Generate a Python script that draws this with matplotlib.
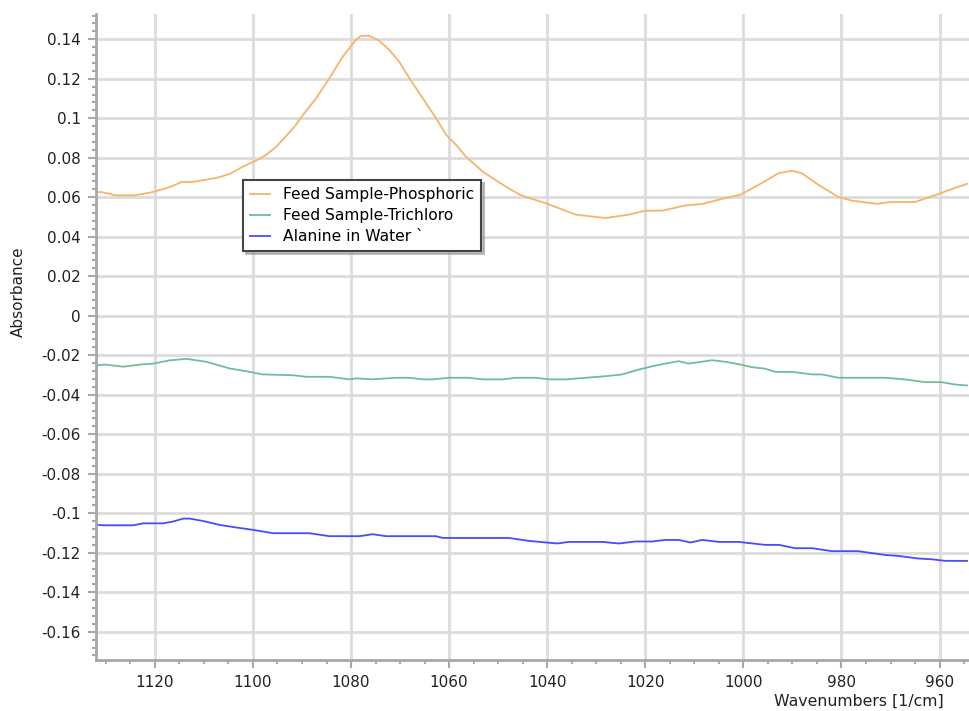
import matplotlib

matplotlib.use("Agg")
import matplotlib.pyplot as plt
from matplotlib.ticker import MultipleLocator, FuncFormatter

# spectra (wavenumber, absorbance)
phos_x = [1133.2, 1130.5, 1128.1, 1124.1, 1120.3, 1116.6, 1114.6, 1112.6, 1109.5,
          1106.8, 1104.7, 1102.0, 1099.3, 1097.3, 1095.2, 1091.5, 1089.8, 1087.1,
          1084.4, 1081.7, 1079.0, 1078.0, 1076.3, 1074.3, 1072.2, 1070.2, 1068.1,
          1065.4, 1062.7, 1060.6, 1058.6, 1056.6, 1053.2, 1049.1, 1045.4, 1040.3,
          1034.2, 1028.1, 1023.4, 1020.0, 1016.6, 1011.8, 1008.4, 1003.7, 1000.6,
          996.9, 992.8, 990.1, 988.1, 984.7, 980.6, 977.9, 972.8, 969.8, 965.0,
          960.3, 956.9, 954.4]
phos_y = [0.0630, 0.0625, 0.0610, 0.0610, 0.0627, 0.0655, 0.0677, 0.0677, 0.0689,
          0.0702, 0.0719, 0.0756, 0.0786, 0.0815, 0.0857, 0.0958, 0.1017, 0.1102,
          0.1203, 0.1312, 0.1397, 0.1417, 0.1418, 0.1393, 0.1346, 0.1287, 0.1203,
          0.1102, 0.1001, 0.0916, 0.0866, 0.0806, 0.0731, 0.0664, 0.0610, 0.0570,
          0.0512, 0.0495, 0.0512, 0.0532, 0.0532, 0.0559, 0.0566, 0.0596, 0.0613,
          0.0663, 0.0722, 0.0734, 0.0722, 0.0663, 0.0601, 0.0583, 0.0567, 0.0576,
          0.0576, 0.0616, 0.0647, 0.0668]

tri_x = [1133.2, 1130.2, 1126.4, 1123.0, 1120.3, 1117.0, 1113.6, 1109.5, 1104.7,
         1101.3, 1098.0, 1091.9, 1089.1, 1084.4, 1080.3, 1079.0, 1075.6, 1070.9,
         1068.1, 1065.4, 1063.4, 1060.0, 1055.9, 1053.2, 1049.1, 1046.4, 1042.3,
         1039.6, 1036.2, 1032.1, 1028.1, 1024.7, 1021.3, 1017.9, 1015.9, 1013.2,
         1011.2, 1009.1, 1006.4, 1003.7, 1000.6, 998.3, 995.6, 993.5, 990.1,
         986.0, 984.0, 980.6, 975.9, 971.1, 967.1, 963.0, 959.6, 956.9, 954.4]
tri_y = [-0.0255, -0.0247, -0.0258, -0.0247, -0.0242, -0.0226, -0.0218, -0.0233,
         -0.0267, -0.0281, -0.0297, -0.0301, -0.0309, -0.0309, -0.0322, -0.0317,
         -0.0322, -0.0314, -0.0314, -0.0322, -0.0322, -0.0314, -0.0314, -0.0322,
         -0.0322, -0.0314, -0.0314, -0.0322, -0.0322, -0.0314, -0.0306, -0.0297,
         -0.0272, -0.0252, -0.0242, -0.0230, -0.0242, -0.0235, -0.0225, -0.0233,
         -0.0247, -0.0260, -0.0268, -0.0284, -0.0284, -0.0297, -0.0297, -0.0314,
         -0.0314, -0.0314, -0.0322, -0.0336, -0.0336, -0.0348, -0.0353]

ala_x = [1133.2, 1130.5, 1124.4, 1122.4, 1118.3, 1116.3, 1114.2, 1112.9, 1110.2,
         1106.8, 1103.4, 1100.0, 1095.9, 1088.5, 1084.4, 1078.3, 1075.6, 1072.9,
         1062.7, 1061.3, 1047.8, 1043.7, 1041.6, 1037.9, 1035.6, 1028.8, 1025.4,
         1022.0, 1018.6, 1015.9, 1013.2, 1010.8, 1008.4, 1005.0, 1001.0, 995.6,
         992.8, 989.4, 986.0, 981.9, 976.6, 971.1, 968.4, 964.4, 961.6, 958.9, 954.4]
ala_y = [-0.1056, -0.1061, -0.1061, -0.1051, -0.1051, -0.1042, -0.1027, -0.1027,
         -0.1039, -0.1059, -0.1072, -0.1084, -0.1101, -0.1101, -0.1116, -0.1116,
         -0.1106, -0.1116, -0.1116, -0.1125, -0.1125, -0.1140, -0.1145, -0.1153,
         -0.1145, -0.1145, -0.1153, -0.1143, -0.1143, -0.1135, -0.1135, -0.1148,
         -0.1135, -0.1145, -0.1145, -0.1160, -0.1160, -0.1177, -0.1177, -0.1192,
         -0.1192, -0.1211, -0.1216, -0.1229, -0.1233, -0.1241, -0.1241]

labels = ["Feed Sample-Phosphoric", "Feed Sample-Trichloro", "Alanine in Water `"]
colors = ["#f7b36c", "#6fbf93", "#4a4aff"]

W, H = 969, 711
fig = plt.figure(figsize=(W / 100, H / 100), dpi=100)
ax = fig.add_axes([96 / W, 1 - 660 / H, (969 - 96) / W, (660 - 14) / H])

for xs, ys, lab, col in zip([phos_x, tri_x, ala_x], [phos_y, tri_y, ala_y], labels, colors):
    ax.plot(xs, ys, color=col, lw=1.3, label=lab)

ax.set_xlim(1132, 954)
ax.set_ylim(-0.1743, 0.1528)

ax.xaxis.set_major_locator(MultipleLocator(20))
ax.xaxis.set_minor_locator(MultipleLocator(5))
ax.yaxis.set_major_locator(MultipleLocator(0.02))
ax.yaxis.set_minor_locator(MultipleLocator(0.004))
ax.yaxis.set_major_formatter(FuncFormatter(lambda v, _: "0" if abs(v) < 1e-9 else f"{v:.2f}".rstrip("0")))

ax.grid(which="major", color="#dcdcdc", lw=2)
ax.set_axisbelow(True)

for side in ["top", "right"]:
    ax.spines[side].set_visible(False)
for side in ["left", "bottom"]:
    ax.spines[side].set_color("#a8a8a8")
    ax.spines[side].set_linewidth(2)

ax.tick_params(which="major", length=6, width=1.5, color="#a8a8a8", labelsize=11,
               labelcolor="#222222", pad=5)
ax.tick_params(which="minor", length=3, width=1.5, color="#a8a8a8")

ax.set_ylabel("Absorbance", fontsize=11, color="#222222")
ax.yaxis.set_label_coords(-0.08, 0.57)
fig.text(944 / W, 1 - 701 / H, "Wavenumbers [1/cm]", ha="right", va="center",
         fontsize=11.3, color="#222222")

leg = ax.legend(loc="upper left", bbox_to_anchor=(243 / W, 1 - 180 / H),
                bbox_transform=fig.transFigure, fontsize=11.2, fancybox=False,
                shadow={"color": "#999999", "alpha": 0.6}, framealpha=1,
                handlelength=1.3, borderpad=0.45, labelspacing=0.4,
                handletextpad=0.8, borderaxespad=0)
leg.get_frame().set_edgecolor("#444444")
leg.get_frame().set_linewidth(1.5)

fig.savefig("out.png", dpi=100)
